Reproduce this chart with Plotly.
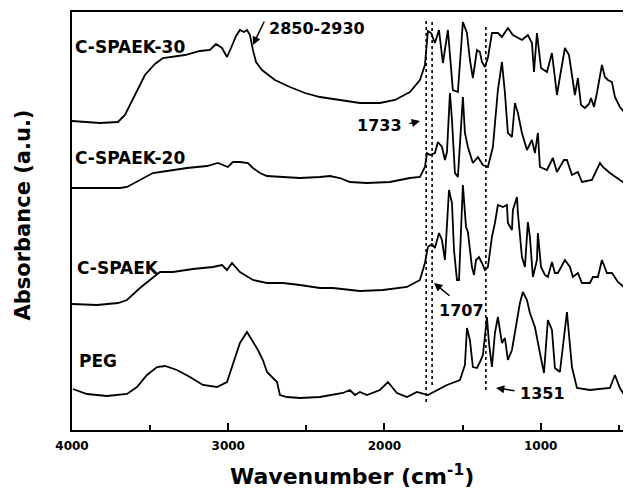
import plotly.graph_objects as go

# ---------------- data (wavenumber cm^-1, absorbance a.u. with offsets) ----------------
spaek30_wn = [4000, 3821, 3706, 3661, 3597, 3533, 3469, 3418, 3277, 3181, 3117, 3078, 3040, 3008,
              2982, 2950, 2925, 2899, 2880, 2861, 2842, 2822, 2784, 2701, 2605, 2509, 2413, 2285,
              2157, 2029, 1933, 1837, 1773, 1741, 1728, 1722, 1702, 1677, 1651, 1626, 1594, 1562,
              1530, 1498, 1472, 1453, 1434, 1408, 1389, 1376, 1357, 1338, 1312, 1274, 1248, 1210,
              1178, 1120, 1082, 1056, 1043, 1024, 998, 960, 928, 909, 896, 877, 845, 819, 800, 781,
              762, 742, 717, 691, 678, 659, 640, 608, 589, 570, 544, 525, 493, 461, 422]
spaek30_ab = [309, 307, 308, 315, 335, 355, 366, 372, 375, 379, 380, 386, 382, 373,
              382, 394, 400, 398, 400, 395, 380, 368, 360, 350, 343, 337, 333, 330,
              327, 327, 330, 338, 350, 365, 385, 399, 397, 387, 400, 367, 400, 340,
              338, 408, 397, 370, 352, 380, 378, 368, 363, 372, 397, 397, 393, 402,
              395, 390, 395, 387, 358, 397, 362, 358, 377, 355, 335, 353, 382, 375, 355, 335,
              352, 325, 322, 326, 332, 323, 337, 365, 353, 350, 348, 333, 323, 317, 307]

spaek20_wn = [4000, 3693, 3648, 3565, 3482, 3392, 3264, 3136, 3066, 3034, 3002, 2970, 2925, 2874,
              2842, 2797, 2752, 2650, 2541, 2413, 2349, 2285, 2221, 2112, 1965, 1837, 1773, 1741,
              1728, 1709, 1677, 1658, 1632, 1613, 1600, 1581, 1568, 1549, 1530, 1498, 1485, 1466,
              1434, 1402, 1370, 1338, 1306, 1274, 1248, 1229, 1210, 1184, 1165, 1146, 1120, 1088,
              1056, 1037, 1018, 1005, 960, 922, 896, 851, 832, 800, 762, 736, 672, 621, 602, 557,
              512, 429]
spaek20_ab = [242, 242, 243, 250, 257, 259, 262, 264, 267, 265, 263, 268, 268, 267,
              262, 257, 254, 253, 252, 253, 254, 252, 248, 247, 248, 252, 253, 263,
              277, 275, 277, 288, 283, 270, 278, 337, 310, 257, 253, 333, 297, 283,
              267, 273, 265, 263, 283, 340, 368, 337, 297, 293, 327, 317, 297, 280,
              290, 277, 297, 263, 260, 272, 258, 270, 270, 255, 258, 248, 250, 267, 263, 257,
              252, 243]

spaek_wn = [4000, 3840, 3706, 3648, 3565, 3482, 3437, 3354, 3226, 3098, 3040, 3008, 2976, 2925,
            2842, 2752, 2650, 2541, 2413, 2330, 2157, 2010, 1856, 1773, 1741, 1722, 1696, 1677,
            1658, 1651, 1632, 1613, 1587, 1568, 1555, 1536, 1523, 1498, 1478, 1466, 1440, 1427,
            1414, 1395, 1376, 1357, 1338, 1312, 1293, 1274, 1242, 1216, 1210, 1184, 1178, 1152,
            1146, 1120, 1101, 1082, 1069, 1050, 1024, 1018, 998, 973, 954, 928, 909, 890, 845,
            813, 794, 762, 736, 685, 666, 634, 608, 576, 544, 506, 429]
spaek_ab = [126, 125, 127, 130, 142, 153, 158, 158, 161, 163, 165, 160, 167, 158,
            150, 147, 147, 145, 142, 142, 139, 140, 143, 150, 167, 183, 186, 182,
            195, 197, 190, 170, 240, 227, 180, 150, 150, 245, 203, 198, 163, 155,
            170, 173, 167, 160, 163, 193, 207, 225, 223, 225, 207, 200, 220, 233,
            217, 173, 163, 208, 193, 153, 170, 197, 163, 155, 153, 168, 157, 157, 170,
            163, 153, 157, 147, 147, 153, 153, 170, 157, 157, 148, 138]

peg_wn = [3994, 3904, 3776, 3648, 3584, 3520, 3456, 3405, 3328, 3245, 3162, 3072, 3008, 2970,
          2925, 2880, 2848, 2810, 2778, 2752, 2720, 2688, 2669, 2624, 2541, 2413, 2266, 2221,
          2189, 2157, 2112, 2029, 1978, 1920, 1856, 1792, 1722, 1664, 1600, 1517, 1485, 1472,
          1453, 1434, 1408, 1389, 1370, 1344, 1331, 1312, 1293, 1274, 1248, 1229, 1210, 1184,
          1152, 1133, 1114, 1088, 1069, 1037, 1005, 979, 954, 928, 909, 877, 832, 800, 768,
          685, 557, 525, 493, 429]
peg_ab = [41, 36, 34, 36, 43, 55, 63, 64, 60, 53, 45, 43, 48, 67,
          87, 98, 90, 80, 70, 58, 53, 48, 35, 33, 32, 33, 37, 40,
          35, 38, 35, 40, 48, 37, 33, 38, 35, 40, 45, 50, 65, 102,
          90, 63, 62, 68, 75, 113, 87, 63, 97, 113, 87, 92, 70, 80,
          107, 127, 138, 130, 117, 103, 77, 57, 110, 100, 62, 58, 118, 63, 42,
          40, 42, 55, 42, 26]

series_names = ["C-SPAEK-30", "C-SPAEK-20", "C-SPAEK", "PEG"]
label_wn = [3994, 3994, 3981, 3968]
label_ab = [383, 272, 162, 69]

marker_lines_wn = [1733, 1695, 1351]
marker_lines_top = [410, 410, 403]
marker_lines_bottom = [28, 45, 40]

x_tick_vals = [4000, 3000, 2000, 1000]
x_tick_text = ["4000", "3000", "2000", "1000"]

# ---------------- figure ----------------
BOLD = "DejaVu Sans"
fig = go.Figure()
for wn, ab, nm in zip([spaek30_wn, spaek20_wn, spaek_wn, peg_wn],
                      [spaek30_ab, spaek20_ab, spaek_ab, peg_ab], series_names):
    fig.add_trace(go.Scatter(x=wn, y=ab, mode="lines", name=nm,
                             line=dict(color="black", width=1.8), showlegend=False))

for wn, top, bot in zip(marker_lines_wn, marker_lines_top, marker_lines_bottom):
    fig.add_shape(type="line", xref="x", yref="y", x0=wn, x1=wn, y0=bot, y1=top,
                  line=dict(color="black", width=1.6, dash="dot"))

for nm, lx, ly in zip(series_names, label_wn, label_ab):
    fig.add_annotation(x=lx, y=ly, xref="x", yref="y", text="<b>%s</b>" % nm,
                       showarrow=False, xanchor="left", yanchor="middle",
                       font=dict(family=BOLD, size=17, color="black"))

num_font = dict(family=BOLD, size=16, color="black")
# peak labels
fig.add_annotation(x=2752, y=402, xref="x", yref="y", text="<b>2850-2930</b>", showarrow=False,
                   xanchor="left", yanchor="middle", font=num_font)
fig.add_annotation(x=1875, y=305, xref="x", yref="y", text="<b>1733</b>", showarrow=False,
                   xanchor="right", yanchor="middle", font=num_font)
fig.add_annotation(x=1664, y=120, xref="x", yref="y", text="<b>1707</b>", showarrow=False,
                   xanchor="left", yanchor="middle", font=num_font)
fig.add_annotation(x=1146, y=37, xref="x", yref="y", text="<b>1351</b>", showarrow=False,
                   xanchor="left", yanchor="middle", font=num_font)

# arrows (head at x,y; tail at ax,ay)
arrows = [(2842, 385, 2765, 410), (1773, 309, 1850, 306), (1683, 147, 1574, 133), (1286, 42, 1158, 39)]
for hx, hy, tx, ty in arrows:
    fig.add_annotation(x=hx, y=hy, ax=tx, ay=ty, xref="x", yref="y", axref="x", ayref="y",
                       text="", showarrow=True, arrowhead=2, arrowsize=1.1, arrowwidth=1.5,
                       arrowcolor="black")

fig.add_annotation(x=0.5, y=-0.108, xref="paper", yref="paper",
                   text="<b>Wavenumber (cm<sup>-1</sup>)</b>", showarrow=False,
                   xanchor="center", yanchor="middle", font=dict(family=BOLD, size=22, color="black"))
fig.add_annotation(x=-0.088, y=0.515, xref="paper", yref="paper",
                   text="<b>Absorbance (a.u.)</b>", showarrow=False, textangle=-90,
                   xanchor="center", yanchor="middle", font=dict(family=BOLD, size=21, color="black"))

fig.update_layout(
    width=623, height=484,
    margin=dict(l=64, r=0, t=4, b=62),
    paper_bgcolor="white", plot_bgcolor="white",
    xaxis=dict(range=[4000, 422], showgrid=False, zeroline=False,
               showline=True, linecolor="black", linewidth=2, mirror=True,
               tickmode="array", tickvals=x_tick_vals, ticktext=["<b>%s</b>" % t for t in x_tick_text],
               ticks="inside", ticklen=7, tickwidth=1.5, tickcolor="black", ticklabelstandoff=4,
               tickfont=dict(family=BOLD, size=12, color="black"),
               minor=dict(tickvals=[3500, 2500, 1500, 500], ticks="inside", ticklen=5,
                          tickwidth=1.5, tickcolor="black")),
    yaxis=dict(range=[0, 418], showgrid=False, zeroline=False, showticklabels=False,
               showline=True, linecolor="black", linewidth=2, ticks=""),
)

fig.write_html("out.html")
